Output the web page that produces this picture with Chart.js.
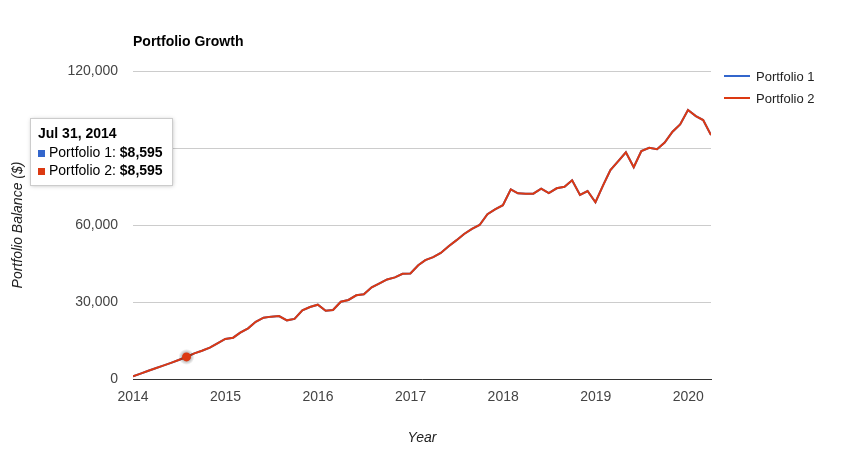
<!DOCTYPE html>
<html>
<head>
<meta charset="utf-8">
<title>Portfolio Growth</title>
<script src="https://cdn.jsdelivr.net/npm/chart.js@4.4.1/dist/chart.umd.min.js"></script>
<style>
  html, body { margin: 0; padding: 0; background: #fff; }
  #wrap { width: 852px; height: 451px; position: relative; }
</style>
</head>
<body>
<div id="wrap"><canvas id="growthChart" width="852" height="451"></canvas></div>
<script>
// Portfolio growth data (month end balances)

const dates = [
    '2014-01-01',
    '2014-01-31', '2014-02-28', '2014-03-31', '2014-04-30', '2014-05-31', '2014-06-30',
    '2014-07-31', '2014-08-31', '2014-09-30', '2014-10-31', '2014-11-30', '2014-12-31',
    '2015-01-31', '2015-02-28', '2015-03-31', '2015-04-30', '2015-05-31', '2015-06-30',
    '2015-07-31', '2015-08-31', '2015-09-30', '2015-10-31', '2015-11-30', '2015-12-31',
    '2016-01-31', '2016-02-29', '2016-03-31', '2016-04-30', '2016-05-31', '2016-06-30',
    '2016-07-31', '2016-08-31', '2016-09-30', '2016-10-31', '2016-11-30', '2016-12-31',
    '2017-01-31', '2017-02-28', '2017-03-31', '2017-04-30', '2017-05-31', '2017-06-30',
    '2017-07-31', '2017-08-31', '2017-09-30', '2017-10-31', '2017-11-30', '2017-12-31',
    '2018-01-31', '2018-02-28', '2018-03-31', '2018-04-30', '2018-05-31', '2018-06-30',
    '2018-07-31', '2018-08-31', '2018-09-30', '2018-10-31', '2018-11-30', '2018-12-31',
    '2019-01-31', '2019-02-28', '2019-03-31', '2019-04-30', '2019-05-31', '2019-06-30',
    '2019-07-31', '2019-08-31', '2019-09-30', '2019-10-31', '2019-11-30', '2019-12-31',
    '2020-01-31', '2020-02-29', '2020-03-31',
];

const portfolio1 = [
    1000,
    2100, 3100, 4200, 5200, 6300, 7400, 8595, 10000, 11000, 12200, 13900, 15600,
    16100, 18050, 19750, 22300, 23900, 24300, 24500, 22850, 23400, 26750, 28050, 28950,
    26600, 26900, 30100, 30800, 32600, 33000, 35700, 37300, 38800, 39600, 41000, 41100,
    44300, 46300, 47500, 49100, 51700, 54000, 56500, 58500, 60000, 64200, 66100, 67700,
    73900, 72350, 72200, 72200, 74150, 72450, 74300, 74900, 77400, 71700, 73250, 68850,
    75600, 81400, 84900, 88300, 82500, 88800, 90100, 89500, 92100, 96350, 99200, 104800,
    102450, 100900, 95050,
];

// same balances for the second portfolio
const portfolio2 = [
    1000,
    2100, 3100, 4200, 5200, 6300, 7400, 8595, 10000, 11000, 12200, 13900, 15600,
    16100, 18050, 19750, 22300, 23900, 24300, 24500, 22850, 23400, 26750, 28050, 28950,
    26600, 26900, 30100, 30800, 32600, 33000, 35700, 37300, 38800, 39600, 41000, 41100,
    44300, 46300, 47500, 49100, 51700, 54000, 56500, 58500, 60000, 64200, 66100, 67700,
    73900, 72350, 72200, 72200, 74150, 72450, 74300, 74900, 77400, 71700, 73250, 68850,
    75600, 81400, 84900, 88300, 82500, 88800, 90100, 89500, 92100, 96350, 99200, 104800,
    102450, 100900, 95050,
];

const seriesNames = ['Portfolio 1', 'Portfolio 2'];
const yTicks = [0, 30000, 60000, 90000, 120000];
const xTicks = [2014, 2015, 2016, 2017, 2018, 2019, 2020];
const hoverDate = '2014-07-31';

// Google chart colors
const colors = {
    blue: '#3366CC',
    red: '#DC3912',
    grid: '#cccccc',
    text: '#444444',
};

const FONT = 'Arial, "Liberation Sans", sans-serif';

// date string -> fractional year, so the x axis is linear in time
function toYear(d) {
    const [y, m, day] = d.split('-').map(Number);
    const start = Date.UTC(y, 0, 1);
    const end = Date.UTC(y + 1, 0, 1);
    return y + (Date.UTC(y, m - 1, day) - start) / (end - start);
}

const points1 = dates.map((d, i) => ({ x: toYear(d), y: portfolio1[i] }));
const points2 = dates.map((d, i) => ({ x: toYear(d), y: portfolio2[i] }));

const fmt = n => n.toLocaleString('en-US');

// Title, legend, hover dot and tooltip box drawn like the google chart
const extras = {
    id: 'extras',
    afterDatasetsDraw(chart) {
        const ctx = chart.ctx;
        const area = chart.chartArea;
        const xs = chart.scales.x;
        const ys = chart.scales.y;
        const idx = dates.indexOf(hoverDate);

        // highlighted point with a soft grey halo
        const px = xs.getPixelForValue(toYear(hoverDate));
        const py = ys.getPixelForValue(portfolio2[idx]);
        ctx.save();
        const halo = ctx.createRadialGradient(px, py, 3, px, py, 8);
        halo.addColorStop(0, 'rgba(0,0,0,0.35)');
        halo.addColorStop(1, 'rgba(0,0,0,0)');
        ctx.beginPath();
        ctx.arc(px, py, 8, 0, Math.PI * 2);
        ctx.fillStyle = halo;
        ctx.fill();
        ctx.beginPath();
        ctx.arc(px, py, 4.5, 0, Math.PI * 2);
        ctx.fillStyle = colors.red;
        ctx.fill();
        ctx.restore();

        // title
        ctx.save();
        ctx.fillStyle = '#000';
        ctx.font = 'bold 14px ' + FONT;
        ctx.textBaseline = 'middle';
        ctx.fillText('Portfolio Growth', area.left, 42);

        // legend
        const lx = area.right + 13;
        [colors.blue, colors.red].forEach((c, i) => {
            const ly = 76 + i * 22;
            ctx.strokeStyle = c;
            ctx.lineWidth = 2;
            ctx.beginPath();
            ctx.moveTo(lx, ly);
            ctx.lineTo(lx + 26, ly);
            ctx.stroke();
            ctx.fillStyle = '#222';
            ctx.font = '13px ' + FONT;
            ctx.fillText(seriesNames[i], lx + 32, ly + 1);
        });

        // tooltip box
        const bx = 30, by = 118, bw = 142, bh = 67;
        ctx.shadowColor = 'rgba(0,0,0,0.25)';
        ctx.shadowBlur = 4;
        ctx.shadowOffsetX = 1;
        ctx.shadowOffsetY = 1;
        ctx.fillStyle = '#fff';
        ctx.fillRect(bx, by, bw, bh);
        ctx.shadowColor = 'transparent';
        ctx.strokeStyle = '#cccccc';
        ctx.lineWidth = 1;
        ctx.strokeRect(bx + 0.5, by + 0.5, bw, bh);

        const dt = new Date(hoverDate + 'T00:00:00Z');
        const label = dt.toLocaleDateString('en-US', { month: 'short', day: 'numeric', year: 'numeric', timeZone: 'UTC' });
        ctx.fillStyle = '#000';
        ctx.font = 'bold 14px ' + FONT;
        ctx.fillText(label, 38, 134);

        const vals = [portfolio1[idx], portfolio2[idx]];
        [colors.blue, colors.red].forEach((c, i) => {
            const ty = 153 + i * 18;
            ctx.fillStyle = c;
            ctx.fillRect(38, ty - 3, 7, 7);
            ctx.fillStyle = '#000';
            ctx.font = '14px ' + FONT;
            const name = seriesNames[i] + ': ';
            ctx.fillText(name, 49, ty);
            const w = ctx.measureText(name).width;
            ctx.font = 'bold 14px ' + FONT;
            ctx.fillText('$' + fmt(vals[i]), 49 + w, ty);
        });
        ctx.restore();
    }
};

new Chart(document.getElementById('growthChart'), {
    type: 'line',
    data: {
        datasets: [
            {
                label: seriesNames[0],
                data: points1,
                borderColor: colors.blue,
                borderWidth: 2,
                pointRadius: 0,
                tension: 0,
                order: 1, // drawn underneath portfolio 2
            },
            {
                label: seriesNames[1],
                data: points2,
                borderColor: colors.red,
                borderWidth: 2,
                pointRadius: 0,
                tension: 0,
                order: 0,
            },
        ]
    },
    options: {
        responsive: false,
        animation: false,
        devicePixelRatio: 1,
        layout: {
            padding: { top: 71, right: 141, bottom: 0, left: 0 }
        },
        plugins: {
            legend: { display: false },
            tooltip: { enabled: false },
        },
        scales: {
            x: {
                type: 'linear',
                min: 2014,
                max: toYear(dates[dates.length - 1]),
                afterFit: s => { s.height = 72; },
                afterBuildTicks: s => { s.ticks = xTicks.map(v => ({ value: v })); },
                grid: { display: false, drawTicks: false },
                border: { display: true, color: '#333333', width: 1 },
                ticks: {
                    padding: 10,
                    color: colors.text,
                    font: { family: FONT, size: 14 },
                    callback: v => String(v),
                },
                title: {
                    display: true,
                    text: 'Year',
                    color: '#222',
                    font: { family: FONT, size: 14, style: 'italic' },
                    padding: { top: 0, bottom: 4 },
                },
            },
            y: {
                min: 0,
                max: 120000,
                afterFit: s => { s.width = 133; },
                afterBuildTicks: s => { s.ticks = yTicks.map(v => ({ value: v })); },
                grid: { color: colors.grid, drawTicks: false },
                border: { display: false },
                ticks: {
                    padding: 15,
                    color: colors.text,
                    font: { family: FONT, size: 14 },
                    callback: v => fmt(v),
                },
                title: {
                    display: true,
                    text: 'Portfolio Balance ($)',
                    color: '#222',
                    font: { family: FONT, size: 14, style: 'italic' },
                    padding: { top: 10, bottom: 0 },
                },
            },
        },
    },
    plugins: [extras],
});
</script>
</body>
</html>
